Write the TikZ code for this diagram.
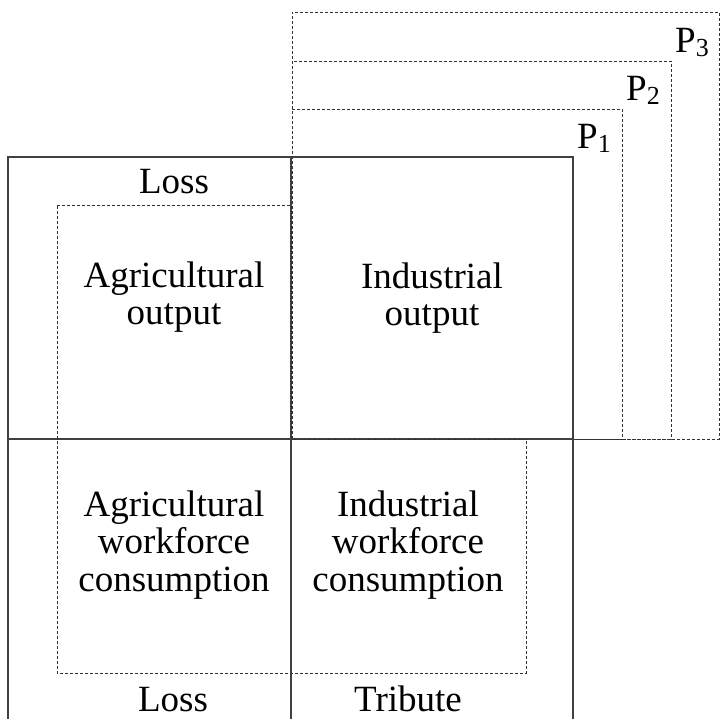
\documentclass[tikz,border=0pt]{standalone}
\usepackage{fontspec}
\setmainfont{Liberation Serif}
\usepackage{tikz}
\usetikzlibrary{positioning}
\tikzset{%
    frame/.style={%
        draw=black!75,
        line width=1.1pt,
    },
    outline/.style={%
        draw=black!80,
        line width=0.8pt,
        dash pattern=on 3pt off 2pt,
    },
    label/.style={%
        inner sep=0pt,
        align=center,
        font=\fontsize{37}{37.5}\selectfont,
    },
}
\newcommand{\pindex}[1]{P\raisebox{-4pt}{\fontsize{26}{26}\selectfont #1}}

\begin{document}
\begin{tikzpicture}[x=1pt, y=-1pt]
	\useasboundingbox (0,0) rectangle (720,718);

	\coordinate (top_left) at (8, 157);
	\coordinate (mid) at (291, 439);
	\coordinate (top_right) at (573, 157);

	% price levels
	\draw[outline] (292, 439) rectangle (622, 109);
	\draw[outline] (292, 439) rectangle (671, 61);
	\draw[outline] (292, 439) rectangle (719, 12);
	\node [label, anchor=base east] at (611, 148) (p1) {\pindex{1}};
	\node [label, anchor=base east] at (660, 100) (p2) {\pindex{2}};
	\node [label, anchor=base east] at (709, 52) (p3) {\pindex{3}};

	% sectors
	\draw[frame] (8, 720) -- (top_left) -- (top_right) -- (573, 720);
	\draw[frame] (8, 439) -- (mid) -- (573, 439);
	\draw[frame] (291, 157) -- (mid) -- (291, 720);

	\draw[outline] (57, 205) -- (291, 205) -- (mid) -- (526, 439)
		-- (526, 673) -- (57, 673) -- cycle;

	\node [label] at (174, 297) (agri_out) {Agricultural\\output};
	\node [label] at (432, 298) (ind_out) {Industrial\\output};
	\node [label] at (174, 545) (agri_cons) {Agricultural\\workforce\\consumption};
	\node [label] at (408, 545) (ind_cons) {Industrial\\workforce\\consumption};

	\node [label, anchor=base] at (174, 193) (loss_top) {Loss};
	\node [label, anchor=base] at (173, 711) (loss_bot) {Loss};
	\node [label, anchor=base] at (408, 711) (tribute) {Tribute};
\end{tikzpicture}
\end{document}
